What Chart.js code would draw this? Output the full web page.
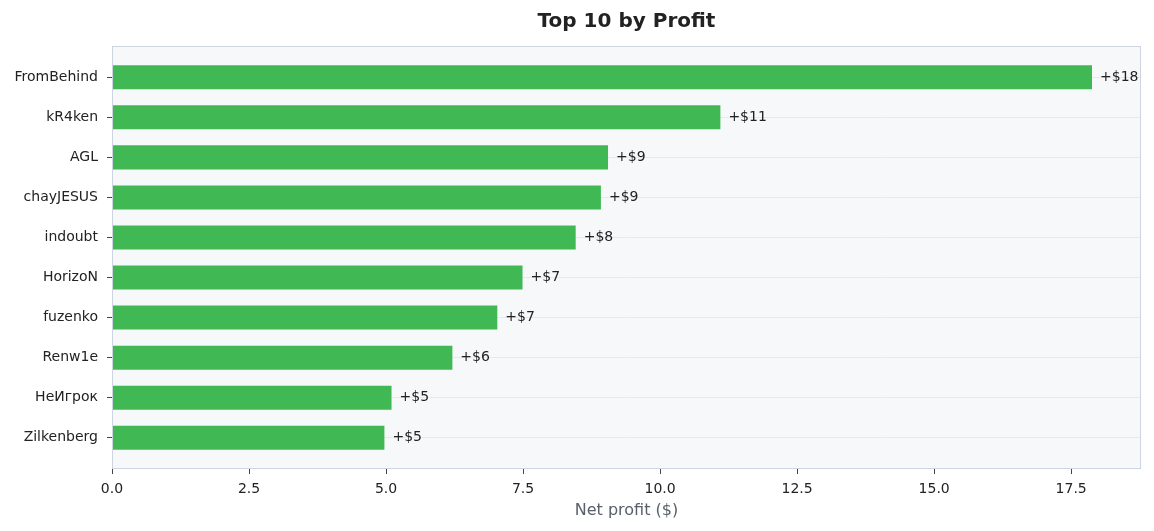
<!DOCTYPE html>
<html>
<head>
<meta charset="utf-8">
<script src="https://cdn.jsdelivr.net/npm/chart.js@4.4.1/dist/chart.umd.min.js"></script>
<style>
  html, body { margin: 0; padding: 0; background: #ffffff; }
  #wrap { width: 1154px; height: 531px; }
</style>
</head>
<body>
<div id="wrap"><canvas id="profitChart" width="1154" height="531"></canvas></div>
<script>
// data
const players = ['FromBehind', 'kR4ken', 'AGL', 'chayJESUS', 'indoubt', 'HorizoN', 'fuzenko', 'Renw1e', 'НеИгрок', 'Zilkenberg'];
const profit = [17.88, 11.1, 9.05, 8.92, 8.46, 7.49, 7.03, 6.21, 5.1, 4.97];
const xTickStep = 2.5;

const chartTitle = 'Top 10 by Profit';
const xTitle = 'Net profit ($)';

const FONT = "'DejaVu Sans', sans-serif";
const barColor = '#40b954';
const plotBg = '#f6f8fa';
const frameColor = '#cdd5e0';
const gridColor = '#e6e9ee';

const xMax = Math.max(...profit) * 1.05;

// plot background, frame, title and the value labels
const decorPlugin = {
    id: 'decor',
    beforeDraw(chart) {
        const { ctx, chartArea: a } = chart;
        ctx.save();
        ctx.fillStyle = plotBg;
        ctx.fillRect(a.left, a.top, a.right - a.left, a.bottom - a.top);
        ctx.restore();
    },
    afterDatasetsDraw(chart) {
        const { ctx, chartArea: a } = chart;
        ctx.save();
        ctx.strokeStyle = frameColor;
        ctx.lineWidth = 1;
        ctx.strokeRect(a.left + 0.5, a.top + 0.5, a.right - a.left - 1, a.bottom - a.top - 1);

        ctx.fillStyle = '#222222';
        ctx.font = '14px ' + FONT;
        ctx.textAlign = 'left';
        ctx.textBaseline = 'middle';
        const meta = chart.getDatasetMeta(0);
        meta.data.forEach((bar, i) => {
            ctx.fillText('+$' + Math.round(profit[i]), bar.x + 8, bar.y);
        });

        ctx.fillStyle = '#222222';
        ctx.font = 'bold 20px ' + FONT;
        ctx.textAlign = 'center';
        ctx.fillText(chartTitle, (a.left + a.right) / 2, 22);
        ctx.restore();
    }
};

const ctx = document.getElementById('profitChart').getContext('2d');
new Chart(ctx, {
    type: 'bar',
    data: {
        datasets: [{
            data: profit.map((v, i) => ({ x: v, y: i })),
            backgroundColor: barColor,
            borderWidth: 0,
            categoryPercentage: 1,
            barPercentage: 0.6
        }]
    },
    options: {
        indexAxis: 'y',
        responsive: false,
        animation: false,
        devicePixelRatio: 1,
        layout: { padding: { top: 46, right: 13, left: 0, bottom: 0 } },
        plugins: {
            legend: { display: false },
            tooltip: { enabled: false },
            title: { display: false }
        },
        scales: {
            x: {
                type: 'linear',
                bounds: 'data',
                min: 0,
                max: xMax,
                afterFit: s => { s.height = 62; },
                grid: { drawOnChartArea: false, tickColor: '#444', tickLength: 5 },
                border: { display: false },
                ticks: {
                    stepSize: xTickStep,
                    includeBounds: false,
                    padding: 7,
                    color: '#222',
                    font: { family: FONT, size: 14 },
                    callback: v => v.toFixed(1)
                },
                title: {
                    display: true,
                    text: xTitle,
                    color: '#59606b',
                    font: { family: FONT, size: 16 },
                    padding: { top: 0, bottom: 11 }
                }
            },
            y: {
                type: 'linear',
                bounds: 'data',
                reverse: true,
                offset: false,
                min: -0.78,
                max: players.length - 1 + 0.78,
                afterBuildTicks: s => { s.ticks = players.map((_, i) => ({ value: i })); },
                afterFit: s => { s.width = 112; },
                grid: { offset: false, color: gridColor, tickColor: '#444', tickLength: 5 },
                border: { display: false },
                ticks: {
                    padding: 9,
                    color: '#222',
                    font: { family: FONT, size: 14 },
                    callback: v => players[v] ?? ''
                }
            }
        }
    },
    plugins: [decorPlugin]
});
</script>
</body>
</html>
